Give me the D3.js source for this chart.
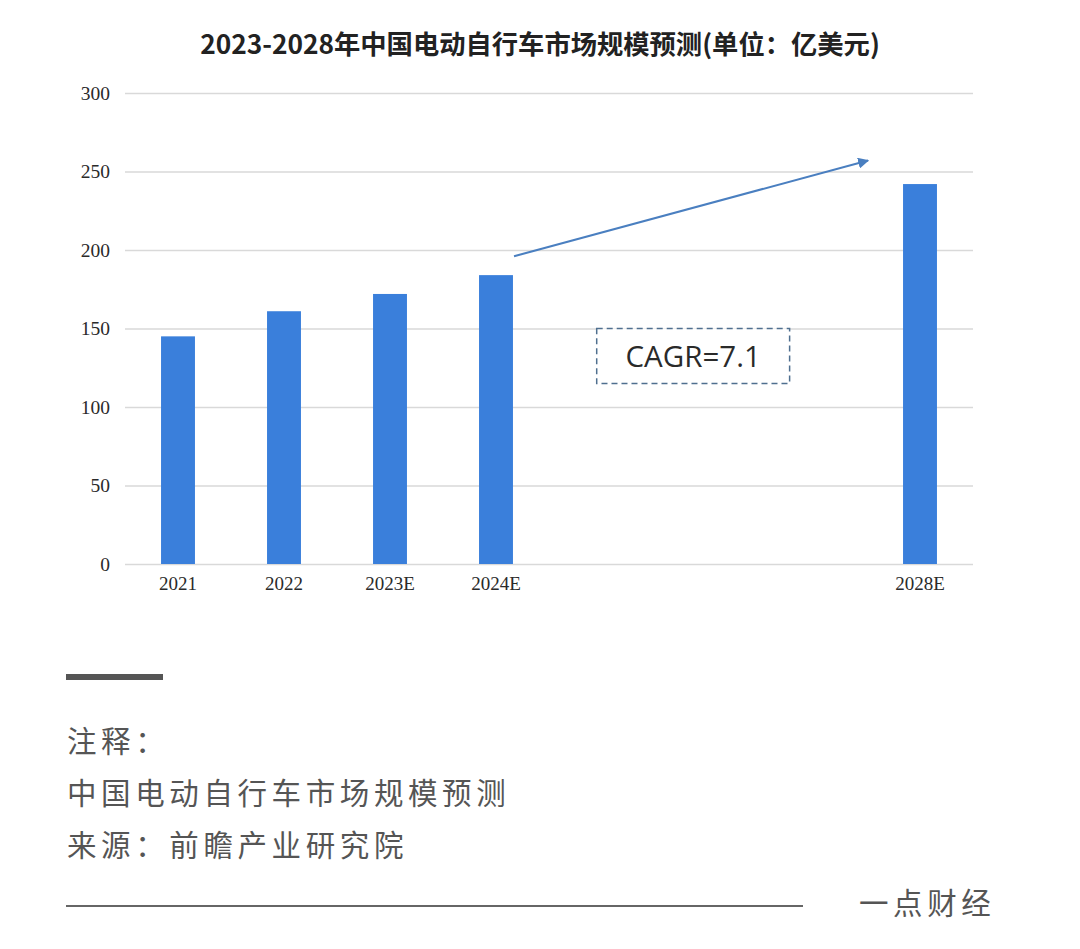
<!DOCTYPE html>
<html>
<head>
<meta charset="utf-8">
<script src="https://cdn.jsdelivr.net/npm/d3@7/dist/d3.min.js"></script>
<style>
  html, body { margin: 0; padding: 0; background: #ffffff; }
  svg { display: block; }
</style>
</head>
<body>
<svg id="chart" width="1080" height="949"></svg>
<script>
// ---- data ----
const title = "2023-2028年中国电动自行车市场规模预测(单位：亿美元)";
const slots = [2021, 2022, 2023, 2024, 2025, 2026, 2027, 2028];
const years = [2021, 2022, 2023, 2024, 2028];
const yearLabels = ["2021", "2022", "2023E", "2024E", "2028E"];
const values = [145, 161, 172, 184, 242];
const yTicks = [0, 50, 100, 150, 200, 250, 300];
const cagrLabel = "CAGR=7.1";
const arrowFrom = [2024.17, 196];
const arrowTo = [2027.51, 257];
const cagrBox = [[2024.95, 150], [2026.77, 115]];
const noteLines = ["注释：", "中国电动自行车市场规模预测", "来源：前瞻产业研究院"];
const brand = "一点财经";

// ---- layout ----
const svg = d3.select("#chart");
const plot = { left: 125, right: 973, top: 93, bottom: 564 };

const x = d3.scaleBand().domain(slots).range([plot.left, plot.right])
  .paddingInner(0.68).paddingOuter(0.34);
const step = x.step();
const xc = t => x(2021) + x.bandwidth() / 2 + (t - 2021) * step; // continuous helper
const y = d3.scaleLinear().domain([0, 300]).range([plot.bottom, plot.top]);

// title
svg.append("text")
  .attr("x", 540).attr("y", 54)
  .attr("text-anchor", "middle")
  .attr("font-family", "'Noto Sans CJK SC', sans-serif")
  .attr("font-weight", "bold")
  .attr("font-size", 26.3)
  .attr("fill", "#222")
  .text(title);

// gridlines + y labels
const yAxis = d3.axisLeft(y).tickValues(yTicks).tickSize(-(plot.right - plot.left)).tickPadding(15);
const gy = svg.append("g").attr("transform", `translate(${plot.left},0)`).call(yAxis);
gy.select(".domain").remove();
gy.selectAll(".tick line").attr("stroke", "#d9d9d9").attr("stroke-width", 1.5);
gy.selectAll(".tick text")
  .attr("font-family", "'Liberation Serif', serif")
  .attr("font-size", 19.5)
  .attr("fill", "#2a2a2a");

// bars
svg.append("g").selectAll("rect")
  .data(years.map((yr, i) => ({ yr, v: values[i] })))
  .join("rect")
  .attr("x", d => x(d.yr))
  .attr("width", x.bandwidth())
  .attr("y", d => y(d.v))
  .attr("height", d => y(0) - y(d.v))
  .attr("fill", "#3a7fdb");

// x labels
const xAxis = d3.axisBottom(x).tickValues(years)
  .tickFormat(d => yearLabels[years.indexOf(d)]).tickSize(0).tickPadding(13);
const gx = svg.append("g").attr("transform", `translate(0,${plot.bottom})`).call(xAxis);
gx.select(".domain").remove();
gx.selectAll(".tick text")
  .attr("font-family", "'Liberation Serif', serif")
  .attr("font-size", 19)
  .attr("fill", "#2a2a2a");

// arrow
const defs = svg.append("defs");
defs.append("marker")
  .attr("id", "ah").attr("viewBox", "0 0 10 10")
  .attr("refX", 9).attr("refY", 5)
  .attr("markerWidth", 5.5).attr("markerHeight", 5.5)
  .attr("orient", "auto")
  .append("path").attr("d", "M0,0 L10,5 L0,10 z").attr("fill", "#4a7fc0");
svg.append("line")
  .attr("x1", xc(arrowFrom[0])).attr("y1", y(arrowFrom[1]))
  .attr("x2", xc(arrowTo[0])).attr("y2", y(arrowTo[1]))
  .attr("stroke", "#4a7fc0").attr("stroke-width", 2)
  .attr("marker-end", "url(#ah)");

// CAGR box
const bx0 = xc(cagrBox[0][0]), by0 = y(cagrBox[0][1]);
const bx1 = xc(cagrBox[1][0]), by1 = y(cagrBox[1][1]);
svg.append("rect")
  .attr("x", bx0).attr("y", by0)
  .attr("width", bx1 - bx0).attr("height", by1 - by0)
  .attr("fill", "#fff")
  .attr("stroke", "#4f6f8f").attr("stroke-width", 1.5)
  .attr("stroke-dasharray", "6,4");
svg.append("text")
  .attr("x", (bx0 + bx1) / 2).attr("y", (by0 + by1) / 2 + 11)
  .attr("text-anchor", "middle")
  .attr("font-family", "'Open Sans', sans-serif")
  .attr("font-size", 29.5)
  .attr("fill", "#2a2a2a")
  .text(cagrLabel);

// footer
svg.append("rect").attr("x", 66).attr("y", 674).attr("width", 97).attr("height", 6).attr("fill", "#555");
const baselines = [752, 804, 856];
noteLines.forEach((t, i) => {
  svg.append("text")
    .attr("x", 67).attr("y", baselines[i])
    .attr("font-family", "'Noto Sans CJK SC', sans-serif")
    .attr("font-size", 29.5)
    .attr("letter-spacing", 4.6)
    .attr("fill", "#555")
    .text(t);
});
svg.append("line").attr("x1", 66).attr("x2", 803).attr("y1", 906).attr("y2", 906)
  .attr("stroke", "#666").attr("stroke-width", 2);
svg.append("text")
  .attr("x", 859).attr("y", 914)
  .attr("font-family", "'Noto Sans CJK SC', sans-serif")
  .attr("font-size", 29.5)
  .attr("letter-spacing", 4.6)
  .attr("fill", "#555")
  .text(brand);
</script>
</body>
</html>
